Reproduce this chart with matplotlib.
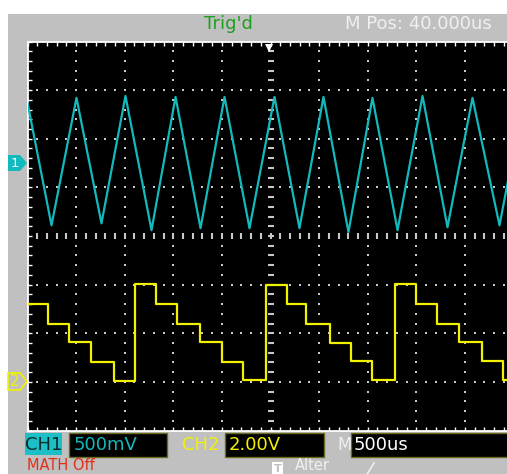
#!/usr/bin/env python3
"""
Oscilloscope screen capture recreation
CH1: triangle wave, CH2: staircase
"""

import numpy as np
import matplotlib.pyplot as plt
from matplotlib.patches import Rectangle, Polygon

# scope settings
time_per_div = 500.0      # us / div
ch1_volts_per_div = 0.5   # V / div
ch2_volts_per_div = 2.0   # V / div
ch1_offset_div = 1.5
ch2_offset_div = -3.0
trigger_time = 2460.0     # us (M Pos 40us left of centre)

# CH1 triangle wave, vertices (us, V)
ch1_time = [0, 247, 504, 761, 1008, 1276, 1523, 1780, 2027, 2284, 2541,
            2798, 3045, 3302, 3549, 3807, 4064, 4321, 4578, 4856, 5000]
ch1_volts = [0.62, -0.64, 0.67, -0.62, 0.69, -0.69, 0.68, -0.67, 0.68, -0.67, 0.68,
             -0.67, 0.68, -0.71, 0.67, -0.69, 0.69, -0.66, 0.67, -0.64, 0.11]

# CH2 staircase, step start times and levels (us, V)
ch2_time = [0, 216, 432, 658, 885, 1101, 1327, 1538, 1775, 1996, 2212, 2449,
            2665, 2870, 3107, 3333, 3549, 3776, 3992, 4213, 4444, 4676, 4897, 5000]
ch2_volts = [3.20, 2.40, 1.65, 0.80, 0.04, 4.04, 3.20, 2.40, 1.65, 0.82, 0.08, 4.00,
             3.20, 2.40, 1.60, 0.86, 0.08, 4.04, 3.20, 2.40, 1.65, 0.86, 0.08, 0.08]

CYAN = '#12b9bd'
YELLOW = '#f2f200'
GRAY = '#c0c0c0'
DOT = '#c8c8c8'

plt.rcParams['font.family'] = ['DejaVu Sans']

fig = plt.figure(figsize=(5.07, 4.74), dpi=100)
fig.patch.set_facecolor('white')

# UI layer in pixel coordinates
ui = fig.add_axes([0, 0, 1, 1])
ui.set_xlim(0, 507)
ui.set_ylim(474, 0)
ui.axis('off')
ui.add_patch(Rectangle((8, 14), 499, 460, facecolor=GRAY, edgecolor='none'))

# header
ui.text(228, 24, "Trig'd", color='#1f9e1f', fontsize=13, ha='center', va='center')
ui.text(345, 24, 'M Pos: 40.000us', color='#f0f0f0', fontsize=13, ha='left', va='center')

# channel markers
ui.add_patch(Polygon([(8, 155), (20, 155), (27, 163), (20, 171), (8, 171)],
                     closed=True, facecolor=CYAN, edgecolor='none'))
ui.text(15, 163.5, '1', color='white', fontsize=9.5, ha='center', va='center')
ui.add_patch(Polygon([(8, 373), (20, 373), (27, 381.5), (20, 390), (8, 390)],
                     closed=True, facecolor=GRAY, edgecolor=YELLOW, lw=1.2))
ui.text(15, 382, '2', color=YELLOW, fontsize=11, ha='center', va='center')

# bottom status bar
ui.add_patch(Rectangle((25, 433), 37, 22, facecolor='#1cbfc6', edgecolor='none'))
ui.text(43.5, 444.5, 'CH1', color='#0a2a2a', fontsize=13, ha='center', va='center')
ui.add_patch(Rectangle((69, 433), 98, 24, facecolor='black', edgecolor='#6a6a20', lw=1))
ui.text(74, 445, '500mV', color=CYAN, fontsize=13, ha='left', va='center')
ui.text(182, 445, 'CH2', color=YELLOW, fontsize=13, ha='left', va='center')
ui.add_patch(Rectangle((225, 433), 99, 24, facecolor='black', edgecolor='#6a6a20', lw=1))
ui.text(229, 445, '2.00V', color=YELLOW, fontsize=13, ha='left', va='center')
ui.text(337, 445, 'M', color='#f0f0f0', fontsize=12, ha='left', va='center')
ui.add_patch(Rectangle((351, 433), 160, 24, facecolor='black', edgecolor='#6a6a20', lw=1))
ui.text(354, 445, '500us', color='white', fontsize=13, ha='left', va='center')
ui.text(27, 473.5, 'MATH Off', color='#e0301c', fontsize=10.5, ha='left', va='bottom')
ui.add_patch(Rectangle((272, 462), 11, 12, facecolor='white', edgecolor='none'))
ui.text(277.5, 472.5, 'T', color=GRAY, fontsize=8, ha='center', va='baseline',
        fontweight='bold')
ui.text(295, 473.5, 'Alter', color='#f0f0f0', fontsize=10.5, ha='left', va='bottom')
ui.plot([358, 366, 374], [476, 476, 463], color='#f0f0f0', lw=1.2)

# scope screen
ax = fig.add_axes([27.5 / 507, (474 - 430.5) / 474, 486 / 507, 389 / 474])
ax.set_facecolor('black')
ax.set_xlim(0, 10 * time_per_div)
ax.set_ylim(-4, 4)
for side in ['left', 'top', 'bottom']:
    ax.spines[side].set_color('white')
    ax.spines[side].set_linewidth(1.3)
ax.spines['right'].set_visible(False)

ax.set_xticks(np.arange(0, 5001, 100))
ax.set_yticks(np.arange(-4, 4.01, 0.2))
ax.tick_params(axis='x', which='both', direction='in', top=True, bottom=True,
               length=2.6, width=1, color='white', labelbottom=False)
ax.tick_params(axis='y', which='both', direction='in', left=True, right=False,
               length=2.6, width=1, color='white', labelleft=False)

# dotted graticule
minor_t = np.arange(0, 5001, 100)
minor_v = np.arange(-4, 4.01, 0.2)
for k in [1, 2, 3, 4, 6, 7, 8, 9]:
    ax.plot(np.full_like(minor_v, k * time_per_div), minor_v, 's', color=DOT,
            ms=1.6, mew=0, zorder=1)
for k in [-3, -2, -1, 1, 2, 3]:
    ax.plot(minor_t, np.full_like(minor_t, k, dtype=float), 's', color=DOT,
            ms=1.6, mew=0, zorder=1)
# centre axes with tick dashes
ax.plot(np.full_like(minor_v, 5 * time_per_div), minor_v, '_', color=DOT,
        ms=4, mew=1.5, zorder=1)
ax.plot(minor_t, np.zeros_like(minor_t, dtype=float), '|', color=DOT,
        ms=4.5, mew=1.5, zorder=1)

# traces
ch1_div = np.array(ch1_volts) / ch1_volts_per_div + ch1_offset_div
ch2_div = np.array(ch2_volts) / ch2_volts_per_div + ch2_offset_div
ax.plot(ch1_time, ch1_div, color=CYAN, lw=1.6, zorder=3)
ax.plot(ch2_time, ch2_div, color=YELLOW, lw=1.6, drawstyle='steps-post', zorder=3)

# trigger position marker
ax.plot(trigger_time + 20, 3.86, marker='v', color='white', ms=6, mew=0,
        clip_on=False, zorder=4)

plt.savefig('out.png', dpi=100)
print('Saved: out.png')
plt.close()
